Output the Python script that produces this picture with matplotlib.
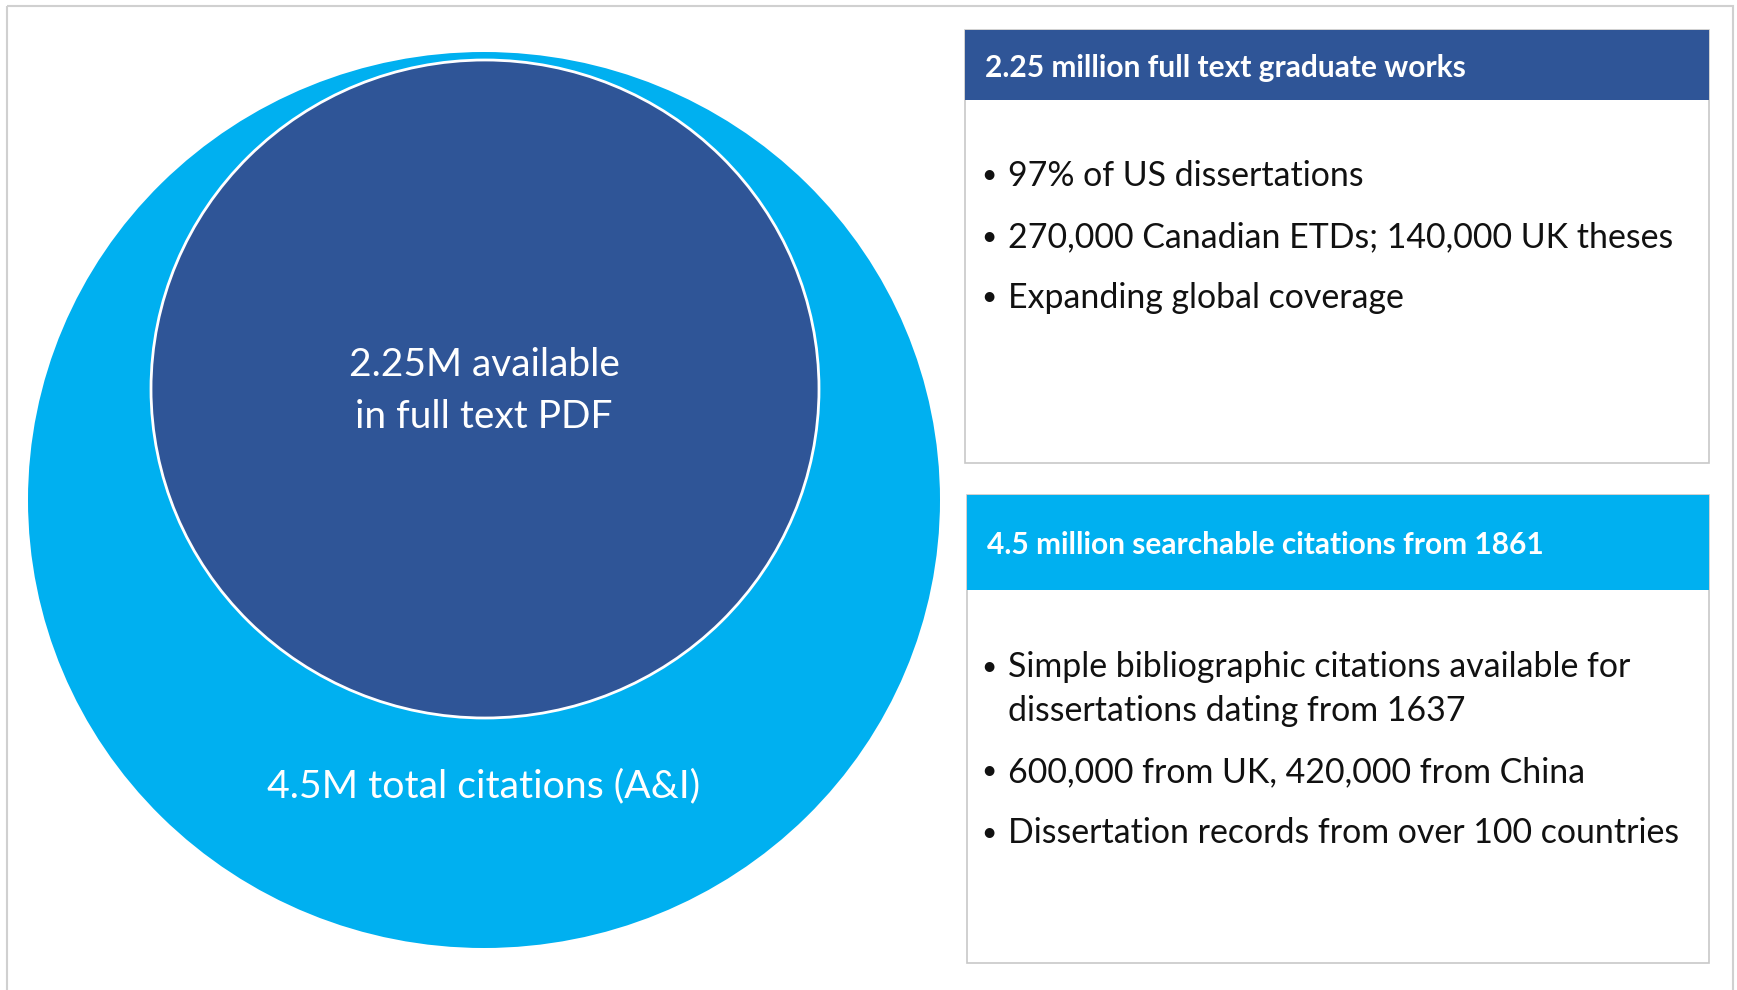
# coding:utf-8
import matplotlib.pyplot as plt
from matplotlib.patches import Ellipse, Rectangle

# Data
circle_labels = ["4.5M total citations (A&I)", "2.25M available\nin full text PDF"]
circle_colors = ["#00B0F0", "#2F5597"]

panel_titles = ["2.25 million full text graduate works",
                "4.5 million searchable citations from 1861"]
panel_colors = ["#2F5597", "#00B0F0"]
panel_bullets = [
    ["97% of US dissertations",
     "270,000 Canadian ETDs; 140,000 UK theses",
     "Expanding global coverage"],
    ["Simple bibliographic citations available for\ndissertations dating from 1637",
     "600,000 from UK, 420,000 from China",
     "Dissertation records from over 100 countries"],
]

FONT = "Lato"
W, H = 1737, 990


def __main():
    fig = plt.figure(figsize=(W / 100, H / 100), dpi=100)
    ax = fig.add_axes([0, 0, 1, 1])
    ax.set_xlim(0, W)
    ax.set_ylim(H, 0)
    ax.axis("off")

    # outer frame
    ax.add_patch(Rectangle((7, 6), 1726, 990, fill=False,
                           edgecolor="#D0D0D0", lw=1.5))

    # circles: outer (total) and inner (full text)
    ax.add_patch(Ellipse((484, 500), 912, 896, facecolor=circle_colors[0],
                         edgecolor="none"))
    ax.add_patch(Ellipse((485, 389), 668, 658, facecolor=circle_colors[1],
                         edgecolor="white", lw=2))
    ax.text(484, 786, circle_labels[0], color="white", fontsize=28.3,
            family=FONT, ha="center", va="center")
    for k, line in enumerate(circle_labels[1].split("\n")):
        ax.text(484, 365 + 52 * k, line, color="white", fontsize=28,
                family=FONT, ha="center", va="center")

    # right-hand panels
    panels = [(965, 30, 100, 463), (967, 495, 590, 963)]
    first_line = [176, 667]
    x_right = 1709
    for i, (x0, top, head_bot, bot) in enumerate(panels):
        ax.add_patch(Rectangle((x0, top), x_right - x0, bot - top,
                               facecolor="white", edgecolor="#C8C8C8", lw=1.2))
        ax.add_patch(Rectangle((x0, top), x_right - x0, head_bot - top,
                               facecolor=panel_colors[i], edgecolor="none"))
        ax.text(x0 + 20, (top + head_bot) / 2 + 3, panel_titles[i],
                color="white", fontsize=21.5, fontweight="bold", family=FONT,
                va="center")
        y = first_line[i]
        for item in panel_bullets[i]:
            ax.text(981, y, "•", color="#111111", fontsize=19, family=FONT,
                    va="center")
            for line in item.split("\n"):
                ax.text(1008, y, line, color="#111111", fontsize=24.4,
                        family=FONT, va="center")
                y += 44
            y += 61 - 44

    fig.savefig("out.png", dpi=100, facecolor="white")


if __name__ == "__main__":
    __main()
